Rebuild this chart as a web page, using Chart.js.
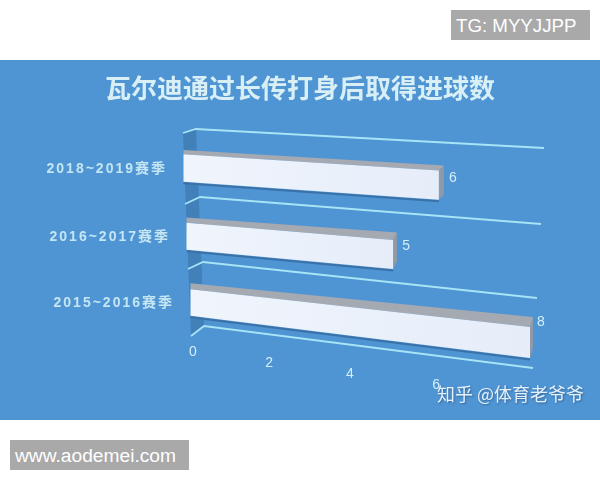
<!DOCTYPE html>
<html lang="zh">
<head>
<meta charset="UTF-8">
<title>瓦尔迪通过长传打身后取得进球数</title>
<script src="https://cdn.jsdelivr.net/npm/chart.js"></script>
<style>
  html, body { margin: 0; padding: 0; background: #fff; }
  #page { position: relative; width: 600px; height: 480px; overflow: hidden; }
  #panel { position: absolute; left: 0; top: 60px; width: 600px; height: 360px; background: #4f94d3; }
  canvas { position: absolute; left: 0; top: 0; }
  .badge { position: absolute; background: #a9a9a9; color: #fff; font-family: "Liberation Sans", sans-serif; white-space: nowrap; }
  #tg { left: 451px; top: 10px; width: 139px; height: 30px; line-height: 31px; font-size: 18.7px; text-indent: 5px; }
  #www { left: 10px; top: 440px; width: 179px; height: 30px; line-height: 31px; font-size: 19.2px; text-indent: 5px; }
  #mark { position: absolute; left: 437px; top: 381px; color: #e4f0fa; font: 18px "Noto Sans CJK SC", sans-serif; line-height: 24px; white-space: nowrap; text-shadow: 1px 1px 2px #35679a; }
</style>
</head>
<body>
<div id="page">
  <div id="panel"></div>
  <canvas id="chart" width="600" height="480"></canvas>
  <div class="badge" id="tg">TG: MYYJJPP</div>
  <div class="badge" id="www">www.aodemei.com</div>
  <div id="mark">知乎 @体育老爷爷</div>
</div>

<script>
// data
const categories = ['2018~2019赛季', '2016~2017赛季', '2015~2016赛季'];
const goals = [6, 5, 8];
const valueTicks = [0, 2, 4, 6];
const valueMax = 8;

// the picture is a tilted 3D chart, so scale pixels get mapped on to these planes
const rowV = [1 / 6, 1 / 2, 5 / 6];
const barLeft = [[183.5, 168], [186.5, 236.5], [190.5, 302.5]];
const barRight = [[524, 190.7], [517, 265.3], [530, 342.5]];
const gridV = [0, 1 / 3, 2 / 3, 1];
const gridFront = [[183, 133], [185, 204], [188, 269], [191, 336]];
const gridBack = [[196, 129], [200, 197], [203, 262], [204, 326]];
const gridEnd = [[544, 148], [541, 224], [537, 298], [533, 368]];
const labelOffsets = [[14, -7], [13, -8.5], [11, -20]];
const categoryRight = [167, 170, 174];

const lightText = '#d3eff8';

function along(ts, pts, t) {
  let i = 0;
  while (i < ts.length - 2 && t > ts[i + 1]) i++;
  const k = (t - ts[i]) / (ts[i + 1] - ts[i]);
  return [pts[i][0] + (pts[i + 1][0] - pts[i][0]) * k, pts[i][1] + (pts[i + 1][1] - pts[i][1]) * k];
}

// x comes from the bar's centre row so its end stays upright, y from the edge itself
function barPoint(u, v, vMid) {
  const lx = along(rowV, barLeft, vMid)[0];
  const rx = along(rowV, barRight, vMid)[0];
  const ly = along(rowV, barLeft, v)[1];
  const ry = along(rowV, barRight, v)[1];
  return [lx + (rx - lx) * u, ly + (ry - ly) * u];
}

function poly(ctx, pts, color) {
  ctx.beginPath();
  pts.forEach((p, i) => i ? ctx.lineTo(p[0], p[1]) : ctx.moveTo(p[0], p[1]));
  ctx.closePath();
  ctx.fillStyle = color;
  ctx.fill();
}

function lineThrough(ctx, pts, color, width) {
  ctx.beginPath();
  pts.forEach((p, i) => i ? ctx.lineTo(p[0], p[1]) : ctx.moveTo(p[0], p[1]));
  ctx.strokeStyle = color;
  ctx.lineWidth = width;
  ctx.stroke();
}

const tiltedBars = {
  id: 'tiltedBars',
  beforeDatasetsDraw(chart) {
    const ctx = chart.ctx;
    const area = chart.chartArea;
    const xScale = chart.scales.x;
    const toU = px => (px - area.left) / area.width;
    const toV = py => (py - area.top) / area.height;

    ctx.save();

    // left wall
    poly(ctx, [gridFront[0], gridBack[0], gridBack[3], gridFront[3]], '#4280ba');

    // grid lines sit on the category band edges
    gridV.forEach((v) => {
      lineThrough(ctx, [along(gridV, gridFront, v), along(gridV, gridBack, v), along(gridV, gridEnd, v)], '#a6e4f6', 1.8);
    });

    // bars
    chart.getDatasetMeta(0).data.forEach((el, i) => {
      const u0 = toU(el.base);
      const u1 = toU(el.x);
      const vMid = toV(el.y);
      const vTop = toV(el.y - el.height / 2);
      const vBottom = toV(el.y + el.height / 2);
      const tl = barPoint(u0, vTop, vMid);
      const tr = barPoint(u1, vTop, vMid);
      const bl = barPoint(u0, vBottom, vMid);
      const br = barPoint(u1, vBottom, vMid);
      // depth of the box grows towards the viewer
      const dl = [0, -(4 + 2.5 * vMid)];
      const dr = [5.5 - 3 * vMid, -(3.5 + 8 * vMid)];
      const shift = (p, d) => [p[0] + d[0], p[1] + d[1]];

      lineThrough(ctx, [[bl[0], bl[1] + 1.5], [br[0], br[1] + 1.5]], '#3a72a8', 2);
      poly(ctx, [tr, br, shift(br, dr), shift(tr, dr)], '#8f9aa8');
      poly(ctx, [tl, tr, shift(tr, dr), shift(tl, dl)], '#a4a9b2');
      const fill = ctx.createLinearGradient(tl[0], 0, tr[0], 0);
      fill.addColorStop(0, '#f0f5fc');
      fill.addColorStop(1, '#e6edf9');
      poly(ctx, [tl, tr, br, bl], fill);

      // value label next to the bar end
      const mid = barPoint(u1, vMid, vMid);
      ctx.font = '14px "Liberation Sans", sans-serif';
      ctx.fillStyle = lightText;
      ctx.textAlign = 'center';
      ctx.textBaseline = 'middle';
      ctx.fillText(String(goals[i]), mid[0] + labelOffsets[i][0], mid[1] + labelOffsets[i][1]);

      // category label
      ctx.font = 'bold 14px "Liberation Sans", "Noto Sans CJK SC", sans-serif';
      ctx.letterSpacing = '2px';
      ctx.textAlign = 'right';
      ctx.fillStyle = '#c4e6f3';
      ctx.fillText(categories[i], categoryRight[i], barPoint(0, vMid, vMid)[1] + 1);
      ctx.letterSpacing = '0px';
    });

    // value axis labels run along the floor with some perspective
    ctx.font = '14px "Liberation Sans", sans-serif';
    ctx.fillStyle = lightText;
    ctx.textAlign = 'center';
    valueTicks.forEach((t) => {
      const u = toU(xScale.getPixelForValue(t));
      ctx.fillText(String(t), 193 + 295 * u / (1 - 0.12 * u), 352 + 44 * u);
    });

    ctx.restore();
    return false;
  }
};

new Chart(document.getElementById('chart').getContext('2d'), {
  type: 'bar',
  data: {
    labels: categories,
    datasets: [{
      label: '进球数',
      data: goals,
      barPercentage: 0.4,
      categoryPercentage: 1
    }]
  },
  options: {
    indexAxis: 'y',
    responsive: false,
    animation: false,
    scales: {
      x: { display: false, min: 0, max: valueMax, ticks: { stepSize: 2 } },
      y: { display: false }
    },
    plugins: {
      legend: { display: false },
      tooltip: { enabled: false },
      title: {
        display: true,
        text: '瓦尔迪通过长传打身后取得进球数',
        color: '#d8eff6',
        font: { family: '"Noto Sans CJK SC", sans-serif', size: 26, weight: 'bold' },
        padding: { top: 73, bottom: 20 }
      }
    }
  },
  plugins: [tiltedBars]
});
</script>
</body>
</html>
